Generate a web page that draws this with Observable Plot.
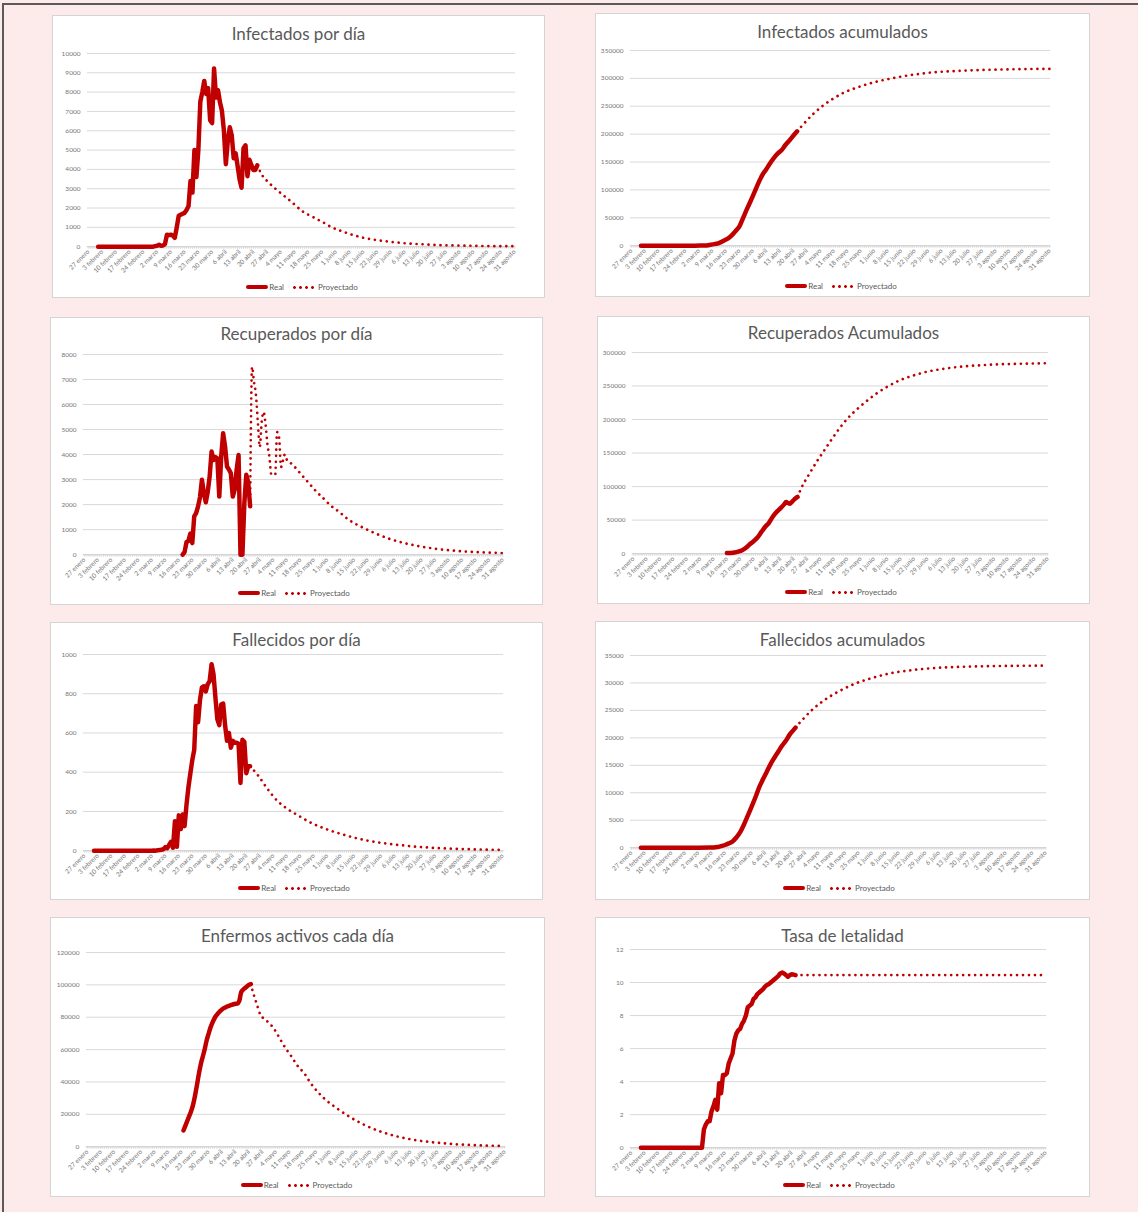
<!DOCTYPE html>
<html><head><meta charset="utf-8">
<script src="https://cdn.jsdelivr.net/npm/d3@7"></script>
<script src="https://cdn.jsdelivr.net/npm/@observablehq/plot@0.6"></script>
<style>
html,body{margin:0;padding:0;}
body{width:1138px;height:1212px;background:#fdeaea;position:relative;overflow:hidden;font-family:Lato,"Open Sans",sans-serif;}
#marco{position:absolute;left:2px;top:3px;width:1140px;height:1215px;border-left:2px solid #5a5a5a;border-top:2px solid #5a5a5a;}
.panel{position:absolute;background:#fff;border:1px solid #d4d4d4;box-sizing:border-box;}
.titulo{position:absolute;left:0;right:0;text-align:center;color:#595959;font-size:17px;height:24px;line-height:24px;white-space:nowrap;}
.panel svg{position:absolute;overflow:visible;}
.leyenda{position:absolute;display:flex;justify-content:center;align-items:center;font-size:8px;color:#595959;height:12px;line-height:12px;}
.sw-real{display:inline-block;width:22px;height:4.5px;background:#c00000;border-radius:2.25px;margin-right:1px;}
.sw-proj{display:inline-block;width:23px;height:3px;margin-left:9px;margin-right:2px;background-image:radial-gradient(circle at 1.5px 1.5px,#c00000 1.2px,transparent 1.6px);background-size:6px 3px;}
</style></head><body><div id="marco"></div><div id="app"></div>
<script>
// ---------- eje X ----------
const ticksFechas = ["2020-01-27","2020-02-03","2020-02-10","2020-02-17","2020-02-24","2020-03-02","2020-03-09","2020-03-16","2020-03-23","2020-03-30","2020-04-06","2020-04-13","2020-04-20","2020-04-27","2020-05-04","2020-05-11","2020-05-18","2020-05-25","2020-06-01","2020-06-08","2020-06-15","2020-06-22","2020-06-29","2020-07-06","2020-07-13","2020-07-20","2020-07-27","2020-08-03","2020-08-10","2020-08-17","2020-08-24","2020-08-31"];
const ticksEtiquetas = ["27 enero","3 febrero","10 febrero","17 febrero","24 febrero","2 marzo","9 marzo","16 marzo","23 marzo","30 marzo","6 abril","13 abril","20 abril","27 abril","4 mayo","11 mayo","18 mayo","25 mayo","1 junio","8 junio","15 junio","22 junio","29 junio","6 julio","13 julio","20 julio","27 julio","3 agosto","10 agosto","17 agosto","24 agosto","31 agosto"];

// ---------- ticks Y ----------
const ticksInfDia = [0,1000,2000,3000,4000,5000,6000,7000,8000,9000,10000];
const ticksInfAcum = [0,50000,100000,150000,200000,250000,300000,350000];
const ticksRecDia = [0,1000,2000,3000,4000,5000,6000,7000,8000];
const ticksRecAcum = [0,50000,100000,150000,200000,250000,300000];
const ticksFallDia = [0,200,400,600,800,1000];
const ticksFallAcum = [0,5000,10000,15000,20000,25000,30000,35000];
const ticksActivos = [0,20000,40000,60000,80000,100000,120000];
const ticksTasa = [0,2,4,6,8,10,12];

// ---------- Infectados por día (real diario desde 1 feb) ----------
const infDiaReal = [0,0,0,0,0,0,0,0,0,0,0,0,0,0,0,0,0,0,0,0,0,0,0,0,0,0,0,0,0,
 30,50,100,50,60,130,620,600,620,580,460,1000,1600,1650,1700,1750,1900,2100,3400,2800,5000,3600,5000,7500,8000,8580,7900,8200,6550,6400,9220,
 7720,8100,7470,7030,6020,4270,5480,6180,5760,4580,4830,4170,3480,3050,5100,5250,3650,4500,4220,3970,3970,4210];
const infDiaProy = [["2020-04-22",4210],["2020-04-24",3780],["2020-04-28",3300],["2020-05-03",2850],["2020-05-10",2270],["2020-05-15",1830],["2020-05-21",1500],["2020-05-26",1230],["2020-05-29",1050],["2020-06-03",840],["2020-06-09",630],["2020-06-15",460],["2020-06-22",340],["2020-06-29",250],["2020-07-07",170],["2020-07-16",120],["2020-07-24",80],["2020-08-02",60],["2020-08-10",45],["2020-08-19",30],["2020-08-31",25]];

// ---------- Infectados acumulados ----------
const infAcumReal = [["2020-02-01",0],["2020-02-29",50],["2020-03-03",200],["2020-03-06",470],["2020-03-09",2300],["2020-03-12",4300],["2020-03-15",9000],["2020-03-18",15000],["2020-03-21",26000],["2020-03-23",34000],["2020-03-25",50000],["2020-03-27",66000],["2020-03-29",81000],["2020-03-31",97000],["2020-04-02",113000],["2020-04-04",127000],["2020-04-06",137000],["2020-04-08",148000],["2020-04-10",157500],["2020-04-12",165500],["2020-04-14",171500],["2020-04-16",181000],["2020-04-18",188500],["2020-04-20",197000],["2020-04-22",205000]];
const infAcumProy = [["2020-04-22",205000],["2020-04-24",213000],["2020-04-30",235000],["2020-05-05",250000],["2020-05-10",262000],["2020-05-16",274000],["2020-05-23",283500],["2020-06-01",293000],["2020-06-10",300000],["2020-06-20",306000],["2020-07-01",310500],["2020-07-15",313500],["2020-08-01",315500],["2020-08-15",316500],["2020-08-31",317000]];

// ---------- Recuperados por día (real diario desde 18 mar) ----------
const recDiaReal = [0,100,500,550,840,460,1530,1660,1930,2300,2990,2460,2090,2500,
 3120,4120,3780,3900,3850,2320,3920,4850,4320,3520,3400,3250,2320,2600,3390,3980,0,0,2060,3190,2900,1930];
const recDiaProy = [["2020-04-22",1930],["2020-04-23",7500],["2020-04-24",6900],["2020-04-25",6400],["2020-04-26",5300],["2020-04-27",4300],["2020-04-28",5300],["2020-04-29",5700],["2020-04-30",5200],["2020-05-01",4400],["2020-05-02",3900],["2020-05-03",3200],["2020-05-04",3200],["2020-05-05",3200],["2020-05-06",4900],["2020-05-07",4700],["2020-05-08",3500],["2020-05-09",3750],["2020-05-10",4000],["2020-05-11",3800],["2020-05-14",3600],["2020-05-18",3250],["2020-05-22",2900],["2020-05-26",2550],["2020-05-30",2250],["2020-06-03",1950],["2020-06-07",1720],["2020-06-12",1400],["2020-06-19",1100],["2020-06-26",850],["2020-07-03",640],["2020-07-10",480],["2020-07-17",360],["2020-07-24",270],["2020-07-31",200],["2020-08-07",150],["2020-08-14",115],["2020-08-21",90],["2020-08-31",65]];

// ---------- Recuperados acumulados ----------
const recAcumReal = [["2020-03-16",1000],["2020-03-18",1100],["2020-03-20",1700],["2020-03-22",3100],["2020-03-24",5100],["2020-03-26",8700],["2020-03-28",14000],["2020-03-30",18500],["2020-04-01",24100],["2020-04-03",32000],["2020-04-05",39700],["2020-04-07",46000],["2020-04-09",55000],["2020-04-11",62000],["2020-04-13",67500],["2020-04-15",73500],["2020-04-16",77000],["2020-04-17",75500],["2020-04-18",74500],["2020-04-19",77000],["2020-04-20",80000],["2020-04-21",82500],["2020-04-22",84500]];
const recAcumProy = [["2020-04-22",84500],["2020-04-24",98000],["2020-04-28",118000],["2020-05-02",137000],["2020-05-06",154000],["2020-05-10",171000],["2020-05-14",187000],["2020-05-18",201000],["2020-05-25",220000],["2020-06-01",236000],["2020-06-08",249000],["2020-06-15",259000],["2020-06-22",266000],["2020-06-29",271500],["2020-07-06",275000],["2020-07-13",277800],["2020-07-20",279700],["2020-07-27",281000],["2020-08-03",282000],["2020-08-10",282700],["2020-08-17",283200],["2020-08-24",283600],["2020-08-31",284000]];

// ---------- Fallecidos por día (real diario desde 1 feb) ----------
const fallDiaReal = [0,0,0,0,0,0,0,0,0,0,0,0,0,0,0,0,0,0,0,0,0,0,0,0,0,0,0,0,0,
 0,0,1,0,2,3,5,7,18,13,30,45,15,150,20,180,110,185,125,235,324,394,462,514,738,655,769,832,838,812,849,
 864,950,900,780,670,640,745,750,640,560,600,525,560,550,550,545,345,565,555,395,430,430];
const fallDiaProy = [["2020-04-22",430],["2020-04-26",385],["2020-05-01",315],["2020-05-06",255],["2020-05-11",215],["2020-05-16",185],["2020-05-23",145],["2020-06-01",108],["2020-06-10",80],["2020-06-20",55],["2020-07-01",37],["2020-07-12",25],["2020-07-25",15],["2020-08-08",9],["2020-08-20",6],["2020-08-31",4]];

// ---------- Fallecidos acumulados ----------
const fallAcumReal = [["2020-02-01",0],["2020-03-02",0],["2020-03-08",18],["2020-03-12",124],["2020-03-14",289],["2020-03-16",489],["2020-03-18",784],["2020-03-20",1144],["2020-03-22",1862],["2020-03-24",2838],["2020-03-26",4231],["2020-03-28",5832],["2020-03-30",7482],["2020-04-01",9195],["2020-04-03",11045],["2020-04-05",12495],["2020-04-07",13880],["2020-04-09",15270],["2020-04-11",16430],["2020-04-13",17515],["2020-04-15",18615],["2020-04-17",19505],["2020-04-19",20625],["2020-04-21",21450],["2020-04-22",21880]];
const fallAcumProy = [["2020-04-22",21880],["2020-04-26",23450],["2020-05-01",25200],["2020-05-06",26600],["2020-05-11",27750],["2020-05-16",28700],["2020-05-23",29850],["2020-06-01",30900],["2020-06-10",31700],["2020-06-20",32250],["2020-07-01",32650],["2020-07-15",32900],["2020-08-01",33050],["2020-08-31",33150]];

// ---------- Enfermos activos (real diario desde 17 mar) ----------
const activosReal = [10000,13000,16000,19000,22000,26000,31500,38000,45000,51000,55500,60000,65500,69500,73500,
 76500,79000,81000,82500,83700,84800,85600,86200,86800,87200,87600,88000,88300,88400,90000,95500,97000,98000,99000,100000,100500];
const activosProy = [["2020-04-21",100500],["2020-04-22",96000],["2020-04-24",88500],["2020-04-26",81500],["2020-04-28",79000],["2020-04-30",77000],["2020-05-03",73000],["2020-05-06",67000],["2020-05-09",61000],["2020-05-12",56000],["2020-05-15",50500],["2020-05-19",45000],["2020-05-22",39500],["2020-05-29",30000],["2020-06-05",23500],["2020-06-12",18000],["2020-06-19",13500],["2020-06-26",10000],["2020-07-03",7300],["2020-07-10",5300],["2020-07-17",3800],["2020-07-24",2800],["2020-07-31",2000],["2020-08-07",1400],["2020-08-14",1000],["2020-08-21",700],["2020-08-31",450]];

// ---------- Tasa de letalidad (real diario desde 1 feb) ----------
const tasaReal = [0,0,0,0,0,0,0,0,0,0,0,0,0,0,0,0,0,0,0,0,0,0,0,0,0,0,0,0,0,0,0,0,0,
 1.1,1.4,1.6,1.6,2.2,2.5,2.9,2.3,3.9,3.3,4.4,4.4,4.5,5.1,5.4,5.7,6.5,6.9,7.1,7.2,7.5,7.7,8.0,8.5,8.6,8.7,9.0,
 9.1,9.3,9.4,9.5,9.6,9.75,9.85,9.9,10.0,10.1,10.2,10.3,10.4,10.55,10.6,10.55,10.45,10.35,10.45,10.5,10.48,10.45];
const tasaProy = [["2020-04-22",10.45],["2020-08-31",10.45]];

// ---------- helpers ----------
const parse = s => new Date(s + "T00:00:00Z");
const diario = (inicio, valores) => { const t0 = parse(inicio); return valores.map((v, i) => ({fecha: d3.utcDay.offset(t0, i), v})); };
const pares = arr => arr.map(([f, v]) => ({fecha: parse(f), v}));
const xIni = new Date(Date.UTC(2020, 0, 26, 12));
const xFin = new Date(Date.UTC(2020, 7, 31, 12));
const dias = d3.utcDay.range(parse("2020-01-27"), parse("2020-09-01"));
const tickDates = ticksFechas.map(parse);
const etiquetas = new Map(tickDates.map((d, i) => [+d, ticksEtiquetas[i]]));

const panels = [
 {titulo:"Infectados por día", left:52, top:15, w:493, h:283, tt:19, gt:38, z:232, lg:272, mL:35, mR:28, yMax:10000, yTicks:ticksInfDia, real:diario("2020-02-01", infDiaReal), proj:pares(infDiaProy), cr:"linear"},
 {titulo:"Infectados acumulados", left:595, top:13, w:495, h:284, tt:19, gt:37, z:233, lg:273, mL:35, mR:38, yMax:350000, yTicks:ticksInfAcum, real:pares(infAcumReal), proj:pares(infAcumProy), cr:"monotone-x"},
 {titulo:"Recuperados por día", left:50, top:317, w:493, h:288, tt:17, gt:37, z:238, lg:276, mL:33, mR:38, yMax:8000, yTicks:ticksRecDia, real:diario("2020-03-18", recDiaReal), proj:pares(recDiaProy), cr:"linear"},
 {titulo:"Recuperados Acumulados", left:597, top:316, w:493, h:288, tt:17, gt:36, z:238, lg:276, mL:35, mR:40, yMax:300000, yTicks:ticksRecAcum, real:pares(recAcumReal), proj:pares(recAcumProy), cr:"monotone-x"},
 {titulo:"Fallecidos por día", left:50, top:622, w:493, h:278, tt:18, gt:32, z:229, lg:266, mL:33, mR:38, yMax:1000, yTicks:ticksFallDia, real:diario("2020-02-01", fallDiaReal), proj:pares(fallDiaProy), cr:"linear"},
 {titulo:"Fallecidos acumulados", left:595, top:621, w:495, h:279, tt:19, gt:34, z:227, lg:267, mL:35, mR:42, yMax:35000, yTicks:ticksFallAcum, real:pares(fallAcumReal), proj:pares(fallAcumProy), cr:"monotone-x"},
 {titulo:"Enfermos activos cada día", left:50, top:917, w:495, h:280, tt:19, gt:35, z:230, lg:268, mL:36, mR:38, yMax:120000, yTicks:ticksActivos, real:diario("2020-03-17", activosReal), proj:pares(activosProy), cr:"monotone-x"},
 {titulo:"Tasa de letalidad", left:595, top:917, w:495, h:280, tt:19, gt:32, z:231, lg:268, mL:35, mR:42, yMax:12, yTicks:ticksTasa, real:diario("2020-02-01", tasaReal), proj:pares(tasaProy), cr:"linear"}
];

const app = document.getElementById("app");
for (const p of panels) {
  const div = document.createElement("div");
  div.className = "panel";
  Object.assign(div.style, {left: p.left + "px", top: p.top + "px", width: p.w + "px", height: p.h + "px"});
  const t = document.createElement("div");
  t.className = "titulo";
  t.textContent = p.titulo;
  t.style.top = (p.tt - 13) + "px";
  div.appendChild(t);

  const svgTop = p.tt + 12;
  const mT = p.gt - svgTop;
  const mB = 44;
  const H = p.z - svgTop + mB;
  const chart = Plot.plot({
    width: p.w, height: H,
    marginLeft: p.mL, marginRight: p.mR, marginTop: mT, marginBottom: mB,
    style: {fontFamily: "Lato, 'Open Sans', sans-serif", fontSize: "6.5px", color: "#767676", background: "none", overflow: "visible"},
    x: {type: "utc", domain: [xIni, xFin], label: null},
    y: {domain: [0, p.yMax], label: null},
    marks: [
      Plot.gridY(p.yTicks, {stroke: "#d9d9d9", strokeOpacity: 1, strokeWidth: 1}),
      Plot.ruleY([0], {stroke: "#d0d0d0"}),
      Plot.axisX(dias, {tickSize: 2.5, stroke: "#d6d6d6", strokeOpacity: 1, tickFormat: () => "", label: null}),
      Plot.axisX(tickDates, {tickSize: 0, tickPadding: 4, tickRotate: -45, tickFormat: d => etiquetas.get(+d), fill: "#767676", label: null}),
      Plot.axisY(p.yTicks, {tickSize: 0, tickPadding: 7, tickFormat: d => String(d), fill: "#767676", label: null}),
      Plot.line(p.proj, {x: "fecha", y: "v", stroke: "#c00000", strokeWidth: 2.7, strokeDasharray: "0.01 6", strokeLinecap: "round", curve: "monotone-x"}),
      Plot.line(p.real, {x: "fecha", y: "v", stroke: "#c00000", strokeWidth: 4.5, strokeLinejoin: "round", strokeLinecap: "round", curve: p.cr})
    ]
  });
  chart.style.left = "-1px";
  chart.style.top = (svgTop - 1) + "px";
  div.appendChild(chart);

  const lg = document.createElement("div");
  lg.className = "leyenda";
  Object.assign(lg.style, {left: (p.mL - 1) + "px", width: (p.w - p.mL - p.mR) + "px", top: (p.lg - 7) + "px"});
  lg.innerHTML = '<span class="sw-real"></span><span>Real</span><span class="sw-proj"></span><span>Proyectado</span>';
  div.appendChild(lg);
  app.appendChild(div);
}
</script></body></html>
